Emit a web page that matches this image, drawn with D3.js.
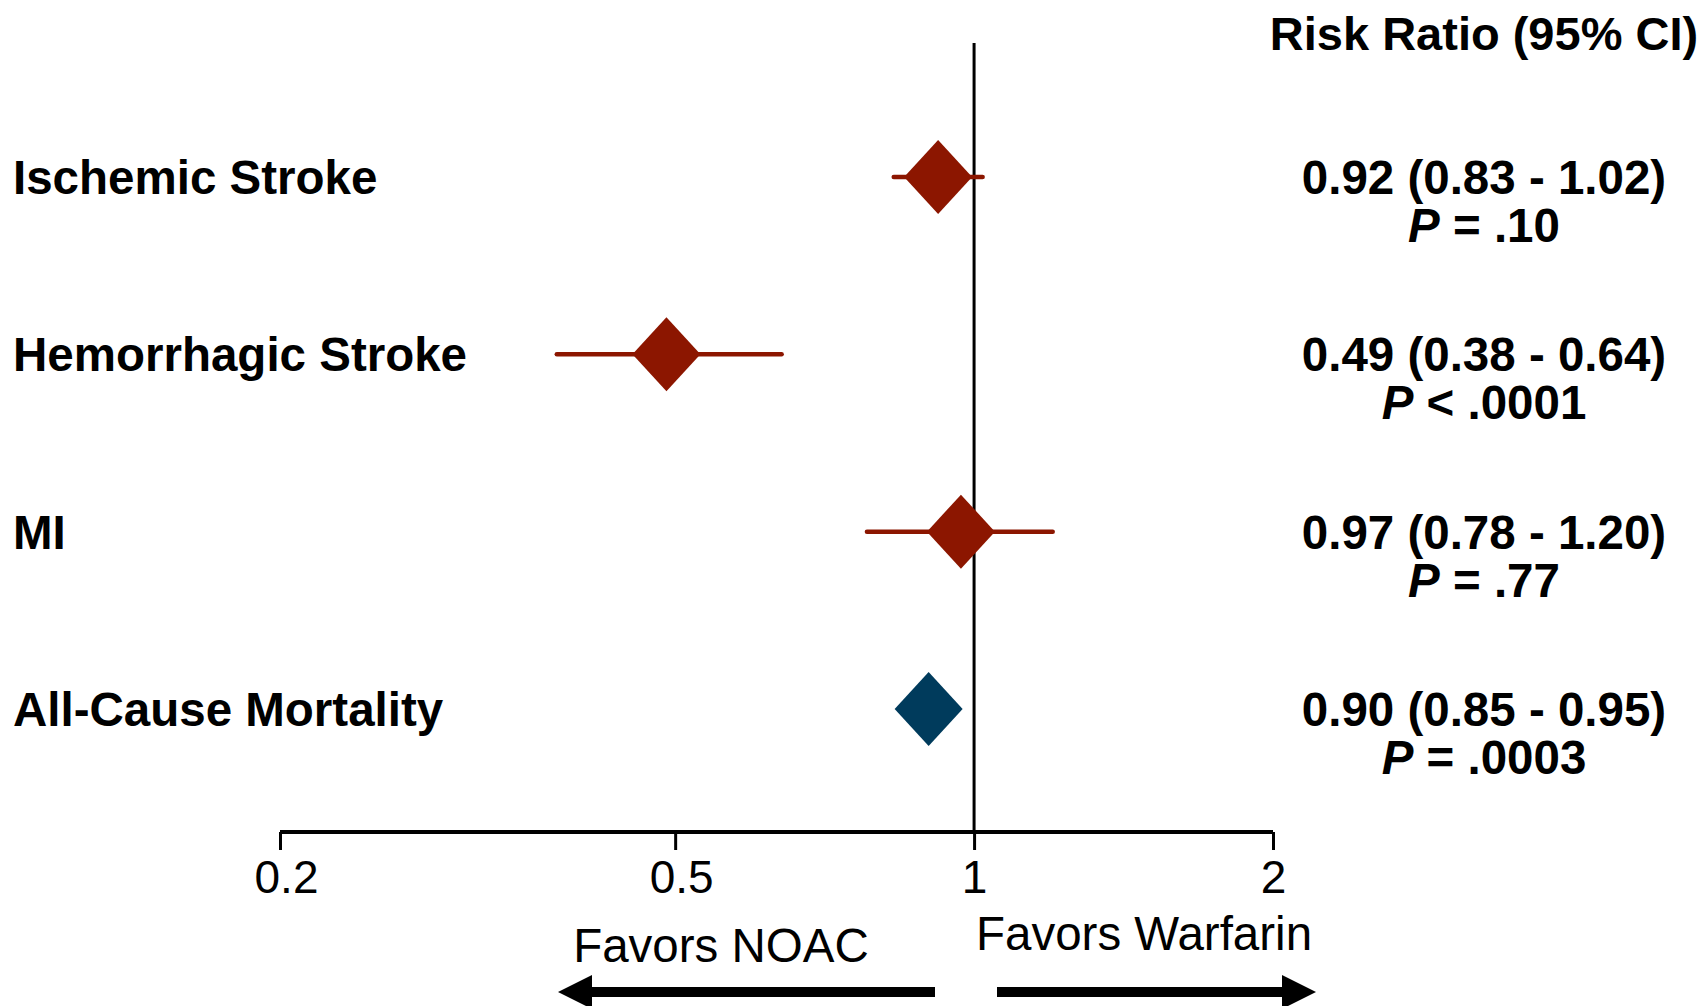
<!DOCTYPE html>
<html>
<head>
<meta charset="utf-8">
<script src="https://cdn.jsdelivr.net/npm/d3@7"></script>
<style>
    html, body { margin: 0; padding: 0; background: #fff; }
    #forest-plot { width: 1705px; height: 1006px; }
    text { font-family: Arial, "Liberation Sans", sans-serif; fill: #000; }
</style>
</head>
<body>
<div id="forest-plot"></div>
<script>
// Outcomes and estimates (risk ratio, 95% CI)
const outcomes = ['Ischemic Stroke', 'Hemorrhagic Stroke', 'MI', 'All-Cause Mortality'];
const riskRatios = [0.92, 0.49, 0.97, 0.90];
const ciLower = [0.83, 0.38, 0.78, 0.85];
const ciUpper = [1.02, 0.64, 1.20, 0.95];
const ciLabels = ['0.92 (0.83 - 1.02)', '0.49 (0.38 - 0.64)', '0.97 (0.78 - 1.20)', '0.90 (0.85 - 0.95)'];
const pValues = ['= .10', '< .0001', '= .77', '= .0003'];
const outcomeGroup = ['stroke', 'stroke', 'stroke', 'mortality'];
const tickValues = [0.2, 0.5, 1, 2];

const width = 1705;
const height = 1006;

const groupColor = {
    'stroke': '#8c1600',
    'mortality': '#003b5c'
};

const svg = d3.select('#forest-plot')
    .append('svg')
    .attr('width', width)
    .attr('height', height)
    .attr('viewBox', [0, 0, width, height]);

const x = d3.scaleLog()
    .domain([0.2, 2])
    .range([280, 1273]);

const y = d3.scalePoint()
    .domain(outcomes)
    .range([177, 709]);

const axisY = 832;

const rows = outcomes.map((name, i) => ({
    name,
    rr: riskRatios[i],
    lo: ciLower[i],
    hi: ciUpper[i],
    ci: ciLabels[i],
    p: pValues[i],
    group: outcomeGroup[i]
}));

// Reference line at RR = 1
svg.append('line')
    .attr('x1', x(1)).attr('x2', x(1))
    .attr('y1', 43).attr('y2', axisY)
    .attr('stroke', '#000')
    .attr('stroke-width', 3);

// X axis
const axis = d3.axisBottom(x)
    .tickValues(tickValues)
    .tickFormat(d3.format('~g'))
    .tickSize(18)
    .tickPadding(10);

const axisG = svg.append('g')
    .attr('transform', `translate(0,${axisY})`)
    .call(axis);

axisG.select('.domain')
    .attr('d', `M${x(0.2)},0H${x(2)}`)
    .attr('stroke-width', 4);
axisG.selectAll('.tick line').attr('stroke-width', 3);
axisG.selectAll('.tick text')
    .attr('font-size', 46)
    .attr('font-family', 'Arial, "Liberation Sans", sans-serif')
    .attr('fill', '#000')
    .attr('dx', d => d < 1 ? 6 : 0);

// CI whiskers
svg.selectAll('.ci')
    .data(rows)
    .join('line')
    .attr('class', 'ci')
    .attr('x1', d => x(d.lo))
    .attr('x2', d => x(d.hi))
    .attr('y1', d => y(d.name))
    .attr('y2', d => y(d.name))
    .attr('stroke', d => groupColor[d.group])
    .attr('stroke-width', 4.5)
    .attr('stroke-linecap', 'round');

// Point estimate diamonds
const hw = 34, hh = 37;
svg.selectAll('.est')
    .data(rows)
    .join('path')
    .attr('class', 'est')
    .attr('d', d => {
        const cx = x(d.rr), cy = y(d.name);
        return `M${cx},${cy - hh}L${cx + hw},${cy}L${cx},${cy + hh}L${cx - hw},${cy}Z`;
    })
    .attr('fill', d => groupColor[d.group]);

// Outcome labels
svg.selectAll('.outcome')
    .data(rows)
    .join('text')
    .attr('class', 'outcome')
    .attr('x', 13)
    .attr('y', d => y(d.name) + 17)
    .attr('font-size', 47.5)
    .attr('font-weight', 'bold')
    .text(d => d.name);

// Right column: header, estimate and p value
const colX = 1484;
svg.append('text')
    .attr('x', colX)
    .attr('y', 50)
    .attr('text-anchor', 'middle')
    .attr('font-size', 47)
    .attr('font-weight', 'bold')
    .text('Risk Ratio (95% CI)');

svg.selectAll('.ci-label')
    .data(rows)
    .join('text')
    .attr('class', 'ci-label')
    .attr('x', colX)
    .attr('y', d => y(d.name) + 17)
    .attr('text-anchor', 'middle')
    .attr('font-size', 47.5)
    .attr('font-weight', 'bold')
    .text(d => d.ci);

const pText = svg.selectAll('.p-label')
    .data(rows)
    .join('text')
    .attr('class', 'p-label')
    .attr('x', colX)
    .attr('y', d => y(d.name) + 65)
    .attr('text-anchor', 'middle')
    .attr('font-size', 47.5)
    .attr('font-weight', 'bold');

pText.append('tspan')
    .attr('font-style', 'italic')
    .text('P');
pText.append('tspan')
    .text(d => ' ' + d.p);

// Direction labels and arrows
svg.append('text')
    .attr('x', 721)
    .attr('y', 962)
    .attr('text-anchor', 'middle')
    .attr('font-size', 47.5)
    .text('Favors NOAC');

svg.append('text')
    .attr('x', 976)
    .attr('y', 950)
    .attr('font-size', 47.5)
    .text('Favors Warfarin');

const arrowY = 992;
function arrow(x0, x1) {
    const dir = Math.sign(x1 - x0);
    const headLen = 34, headHalf = 17, shaftHalf = 5;
    const hx = x1 - dir * headLen;
    return `M${x0},${arrowY - shaftHalf}L${hx},${arrowY - shaftHalf}L${hx},${arrowY - headHalf}` +
        `L${x1},${arrowY}L${hx},${arrowY + headHalf}L${hx},${arrowY + shaftHalf}L${x0},${arrowY + shaftHalf}Z`;
}

svg.append('path').attr('d', arrow(935, 558)).attr('fill', '#000');
svg.append('path').attr('d', arrow(997, 1316)).attr('fill', '#000');
</script>
</body>
</html>
